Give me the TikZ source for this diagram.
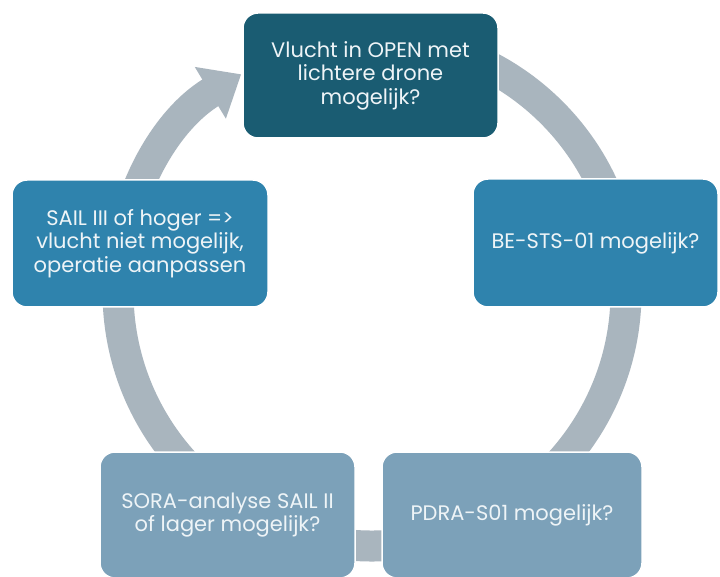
\documentclass[tikz,border=0pt]{standalone}
\usepackage{fontspec}
\setmainfont{Poppins}
\usetikzlibrary{arrows.meta}
\definecolor{darkteal}{HTML}{1A5C72}
\definecolor{midblue}{HTML}{2F83AD}
\definecolor{paleblue}{HTML}{7CA1B9}
\definecolor{arcgray}{HTML}{A9B5BE}
\definecolor{txtc}{HTML}{EEF4F7}
\tikzset{
  cyclebox/.style={rectangle, rounded corners=15pt, draw=white, line width=1.5pt,
    text=txtc, align=center, inner sep=0pt,
    font=\fontsize{21}{23.5}\selectfont},
  cyclearc/.style={draw=arcgray, line width=31pt,
    -{Triangle[length=36pt,width=58pt]}}
}
\begin{document}
\begin{tikzpicture}[x=1pt,y=1pt]
\useasboundingbox (0,0) rectangle (720,576);
\fill[white] (0,0) rectangle (720,576);
\coordinate (c) at (372,284);
\coordinate (arcstart) at ([shift={(95:254)}]c);
\draw[cyclearc] (arcstart) arc[start angle=95, end angle=-239, radius=254];

\node[cyclebox, fill=darkteal, minimum width=255pt, minimum height=125pt]
  (open) at (370.5,500.5) {Vlucht in OPEN met\\lichtere drone\\mogelijk?};
\node[cyclebox, fill=midblue, minimum width=245pt, minimum height=128pt]
  (sts) at (595.5,333) {BE-STS-01 mogelijk?};
\node[cyclebox, fill=paleblue, minimum width=260pt, minimum height=126pt]
  (pdra) at (512,61) {PDRA-S01 mogelijk?};
\node[cyclebox, fill=paleblue, minimum width=255pt, minimum height=126pt]
  (sora) at (227.5,61) {SORA-analyse SAIL II\\of lager mogelijk?};
\node[cyclebox, fill=midblue, minimum width=256pt, minimum height=127pt]
  (sail) at (140,332.5) {SAIL III of hoger =>\\vlucht niet mogelijk,\\operatie aanpassen};
\end{tikzpicture}
\end{document}
